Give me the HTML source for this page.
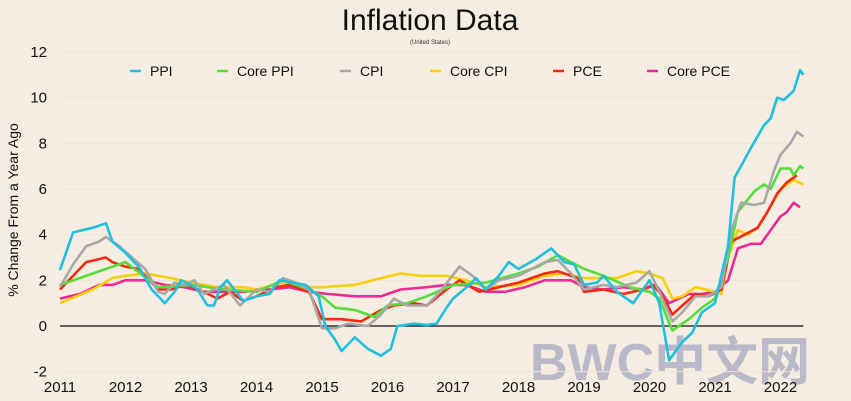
<!DOCTYPE html>
<html><head><meta charset="utf-8"><style>
body{margin:0;background:#f5ede1;font-family:"Liberation Sans","Noto Sans CJK SC",sans-serif}
svg{display:block}
</style></head><body>
<svg id="c" width="851" height="401" viewBox="0 0 851 401">
<rect width="851" height="401" fill="#f5ede1"/>
<text x="430" y="30" font-size="30" text-anchor="middle" fill="#111">Inflation Data</text>
<text x="430" y="44" font-size="6" text-anchor="middle" fill="#333">(United States)</text>
<text transform="translate(18,210) rotate(-90)" font-size="14" text-anchor="middle" fill="#111">% Change From a Year Ago</text>
<text x="530" y="380" font-size="52" font-weight="bold" fill="#b9b9c9">BWC中文网</text>
<g id="grid"></g><g id="axes"></g><g id="series"></g><g id="legend"></g>
</svg>
<script>
const yTicks=[-2,0,2,4,6,8,10,12];
const xTicks=[2011,2012,2013,2014,2015,2016,2017,2018,2019,2020,2021,2022];
const seriesNames=["PPI","Core PPI","CPI","Core CPI","PCE","Core PCE"];
const seriesColors=["#1fbfe0","#55dd3a","#a8a8a8","#f7cf0a","#f52a10","#ec2a95"];
const ppiT=[2011,2011.2,2011.5,2011.7,2011.8,2012,2012.2,2012.4,2012.6,2012.75,2012.85,2013,2013.1,2013.25,2013.35,2013.45,2013.55,2013.8,2014,2014.2,2014.35,2014.55,2014.75,2014.95,2015.05,2015.2,2015.3,2015.5,2015.7,2015.9,2016.05,2016.15,2016.4,2016.6,2016.75,2016.9,2017,2017.25,2017.35,2017.5,2017.7,2017.85,2018,2018.25,2018.4,2018.5,2018.7,2018.85,2019,2019.2,2019.3,2019.5,2019.75,2020,2020.15,2020.3,2020.5,2020.65,2020.8,2021,2021.2,2021.3,2021.55,2021.75,2021.85,2021.95,2022.05,2022.2,2022.3,2022.35];
const ppiV=[2.45,4.1,4.3,4.5,3.7,3.2,2.6,1.6,1.0,1.5,2.0,1.8,1.6,0.9,0.9,1.7,2.0,1.1,1.3,1.4,2.0,1.9,1.8,1.3,0,-0.6,-1.1,-0.5,-1.0,-1.3,-1.0,0,0.1,0.05,0.1,0.8,1.2,1.8,2.1,1.6,2.2,2.8,2.5,2.9,3.2,3.4,2.8,2.7,1.8,1.9,2.2,1.5,1.0,2.0,1.0,-1.5,-0.7,-0.3,0.6,1.0,3.5,6.5,7.8,8.8,9.1,10.0,9.9,10.3,11.2,11.0];
const cppiT=[2011,2011.5,2012,2012.5,2013,2013.5,2014,2014.4,2014.8,2015,2015.2,2015.5,2015.8,2016,2016.3,2016.6,2017,2017.5,2018,2018.3,2018.6,2019,2019.3,2019.7,2020,2020.15,2020.35,2020.6,2020.8,2021,2021.2,2021.35,2021.6,2021.75,2021.85,2022,2022.15,2022.2,2022.3,2022.35];
const cppiV=[1.8,2.3,2.8,1.7,1.8,1.6,1.5,2.0,1.6,1.3,0.8,0.7,0.4,0.9,1.0,1.3,1.8,1.9,2.3,2.6,3.1,2.5,2.2,1.7,1.5,1.2,-0.2,0.3,0.8,1.2,3.0,5.0,5.9,6.2,6.0,6.9,6.9,6.6,7.0,6.9];
const cpiT=[2011,2011.2,2011.4,2011.6,2011.7,2011.9,2012.1,2012.3,2012.5,2012.6,2012.75,2012.9,2013.05,2013.2,2013.35,2013.5,2013.75,2014,2014.2,2014.4,2014.6,2014.8,2015,2015.2,2015.4,2015.7,2015.9,2016.1,2016.3,2016.6,2016.8,2017.1,2017.3,2017.5,2017.7,2018,2018.4,2018.6,2018.8,2019,2019.3,2019.5,2019.8,2020,2020.15,2020.35,2020.5,2020.7,2020.9,2021.1,2021.25,2021.4,2021.6,2021.75,2021.9,2022,2022.15,2022.25,2022.35];
const cpiV=[1.7,2.7,3.5,3.7,3.9,3.5,3.0,2.5,1.5,1.4,1.9,1.8,2.0,1.4,1.6,1.8,0.9,1.6,1.5,2.1,1.9,1.6,-0.1,-0.1,0.1,0.0,0.5,1.2,0.9,0.9,1.5,2.6,2.2,1.6,2.0,2.2,2.8,2.9,2.3,1.6,1.8,1.7,1.9,2.4,1.5,0.2,0.6,1.3,1.3,1.7,4.2,5.4,5.3,5.4,6.8,7.5,8.0,8.5,8.3];
const ccpiT=[2011,2011.5,2011.8,2012,2012.3,2012.7,2013,2013.4,2013.8,2014,2014.4,2014.8,2015,2015.5,2015.9,2016.2,2016.5,2016.9,2017.2,2017.5,2018,2018.4,2018.7,2019,2019.5,2019.8,2020,2020.2,2020.35,2020.5,2020.7,2021,2021.1,2021.2,2021.35,2021.5,2021.65,2021.8,2022,2022.2,2022.35];
const ccpiV=[1.0,1.6,2.1,2.2,2.3,2.1,1.9,1.7,1.7,1.6,1.9,1.7,1.7,1.8,2.1,2.3,2.2,2.2,2.0,1.7,1.8,2.2,2.3,2.1,2.1,2.4,2.3,2.1,1.2,1.3,1.7,1.5,1.4,3.0,4.2,4.0,4.3,5.0,6.0,6.4,6.2];
const pceT=[2011,2011.2,2011.4,2011.7,2011.8,2012,2012.2,2012.5,2012.7,2012.9,2013.2,2013.4,2013.6,2013.8,2014,2014.3,2014.5,2014.8,2015,2015.3,2015.6,2015.9,2016.1,2016.4,2016.6,2016.9,2017.1,2017.4,2017.7,2018,2018.4,2018.6,2018.9,2019,2019.3,2019.6,2019.9,2020.05,2020.2,2020.35,2020.5,2020.7,2020.9,2021.1,2021.25,2021.45,2021.65,2021.8,2021.95,2022.1,2022.25];
const pceV=[1.6,2.2,2.8,3.0,2.8,2.6,2.5,1.6,1.6,1.8,1.5,1.2,1.5,1.1,1.3,1.7,1.8,1.5,0.3,0.3,0.2,0.7,0.9,1.0,0.9,1.6,2.0,1.5,1.7,1.9,2.3,2.4,2.1,1.5,1.6,1.4,1.6,1.8,1.3,0.5,0.9,1.4,1.3,1.6,3.7,4.0,4.3,5.0,5.8,6.3,6.6];
const cpceT=[2011,2011.3,2011.6,2011.8,2012,2012.3,2012.6,2012.9,2013.2,2013.5,2013.8,2014.2,2014.5,2014.8,2015.1,2015.5,2015.9,2016.2,2016.6,2016.9,2017.2,2017.5,2017.8,2018.1,2018.4,2018.8,2019,2019.3,2019.6,2019.9,2020.1,2020.3,2020.6,2020.8,2021,2021.2,2021.35,2021.55,2021.7,2021.85,2022,2022.1,2022.2,2022.3];
const cpceV=[1.2,1.4,1.8,1.8,2.0,2.0,1.8,1.7,1.5,1.5,1.5,1.6,1.7,1.5,1.4,1.3,1.3,1.6,1.7,1.8,1.8,1.5,1.5,1.7,2.0,2.0,1.7,1.6,1.7,1.6,1.8,1.0,1.4,1.4,1.5,2.0,3.4,3.6,3.6,4.2,4.8,5.0,5.4,5.2];
const NS="http://www.w3.org/2000/svg";
function X(t){return 60+(t-2011)*65.5;}
function Y(v){return 326-v*22.83;}
function mk(tag,attrs,parent){const e=document.createElementNS(NS,tag);for(const k in attrs)e.setAttribute(k,attrs[k]);parent.appendChild(e);return e;}
const grid=document.getElementById('grid'),axes=document.getElementById('axes'),ser=document.getElementById('series'),leg=document.getElementById('legend');
yTicks.forEach(v=>{
  const g=mk('line',{x1:60,x2:800,y1:Y(v),y2:Y(v),stroke:'#efe5d6','stroke-width':1},grid);
  
  
  const t=mk('text',{x:47,y:Y(v)+5,'font-size':15,'text-anchor':'end',fill:'#111'},axes);
  t.textContent=v;
  
  
});
xTicks.forEach(v=>{
  const t=mk('text',{x:X(v),y:392,'font-size':15,'text-anchor':'middle',fill:'#111'},axes);
  t.textContent=v;
  
  
});
const zl=mk('line',{x1:X(2011),x2:X(2022.35),y1:Y(0),y2:Y(0),stroke:'#111','stroke-width':1.3},axes);


const data=[[ppiT,ppiV],[cppiT,cppiV],[cpiT,cpiV],[ccpiT,ccpiV],[pceT,pceV],[cpceT,cpceV]];
const order=[5,3,4,1,2,0];
order.forEach(i=>{
  const [T,V]=data[i];
  const d=T.map((t,j)=>(j?'L':'M')+X(t).toFixed(1)+','+Y(V[j]).toFixed(1)).join('');
  const p=mk('path',{d:d,fill:'none',stroke:seriesColors[i],'stroke-width':2.6,'stroke-linejoin':'round'},ser);
  
  
});
const lx=[130,217,340,430,553,647];
seriesNames.forEach((n,i)=>{
  const l=mk('line',{x1:lx[i],x2:lx[i]+11,y1:71,y2:71,stroke:seriesColors[i],'stroke-width':2.5},leg);
  
  
  const t=mk('text',{x:lx[i]+20,y:76,'font-size':14,fill:'#111'},leg);
  t.textContent=n;
  
  
});
</script>
</body></html>
